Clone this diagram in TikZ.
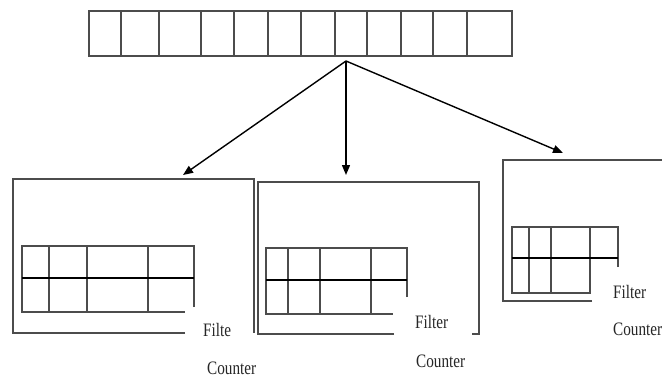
\documentclass[tikz,border=0pt]{standalone}
\usepackage{fontspec}
\setmainfont{Liberation Serif}
\usetikzlibrary{arrows.meta}
\begin{document}
\begin{tikzpicture}[x=1pt,y=-1pt,
  boxline/.style={draw=black!70,line width=1.3pt},
  midline/.style={draw=black,line width=1.8pt},
  arr/.style={draw=black,line width=1.4pt,-{Triangle[length=10pt,width=8pt]}},
  lbl/.style={font=\fontsize{19}{19}\selectfont,xscale=0.8,anchor=base west,inner sep=0pt,text=black!85}]
\useasboundingbox (0,0) rectangle (662,378);
% top array
\node[boxline,rectangle,inner sep=0pt,minimum width=423pt,minimum height=45pt] (toparr) at (300.5,33.5) {};
\foreach \x in {121,159,201,234,268,301,335,367,401,433,467}
  \draw[boxline] (\x,11) -- (\x,56);
\coordinate (src) at (346,61);
\coordinate (tL) at (183,175);
\coordinate (tM) at (346,175);
\coordinate (tR) at (563,153);
\draw[arr] (src) -- (tL);
\draw[arr] (src) -- (tM);
\draw[arr] (src) -- (tR);
% left box
\draw[boxline] (185,333) -- (13,333) -- (13,179) -- (254,179) -- (254,333);
\draw[boxline] (194,307) -- (194,246) -- (22,246) -- (22,312) -- (185,312);
\foreach \x in {49,87,148} \draw[boxline] (\x,246) -- (\x,312);
\draw[midline] (22,278) -- (194,278);
\node[lbl] (f1) at (203,336) {Filte};
\node[lbl] (c1) at (207,374) {Counter};
% middle box
\draw[boxline] (394,334) -- (258,334) -- (258,182) -- (479,182) -- (479,334) -- (472,334);
\draw[boxline] (407,297) -- (407,248) -- (266,248) -- (266,314) -- (393,314);
\foreach \x in {288,320,371} \draw[boxline] (\x,248) -- (\x,314);
\draw[midline] (266,280) -- (407,280);
\node[lbl] (f2) at (415,328) {Filter};
\node[lbl] (c2) at (416,367) {Counter};
% right box
\draw[boxline] (592,301) -- (503,301) -- (503,160) -- (662,160);
\draw[boxline] (618,267) -- (618,227) -- (512,227) -- (512,293) -- (591,293);
\foreach \x in {529,551,590} \draw[boxline] (\x,227) -- (\x,293);
\draw[midline] (512,258) -- (618,258);
\node[lbl] (f3) at (613,298) {Filter};
\node[lbl] (c3) at (613,335) {Counter};
\end{tikzpicture}
\end{document}
